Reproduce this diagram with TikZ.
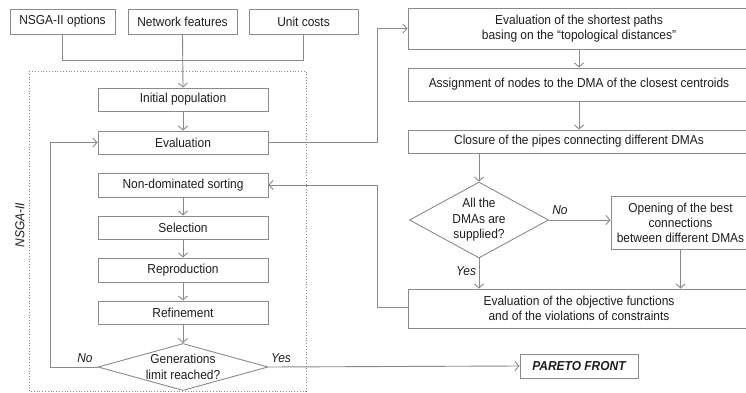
\documentclass[tikz,border=0pt]{standalone}
\usepackage{fontspec}
\setmainfont{Liberation Sans}[FakeStretch=0.92]
\usetikzlibrary{arrows.meta,shapes.geometric}
\definecolor{linecol}{HTML}{8A8A8A}
\definecolor{txtcol}{HTML}{1E1E1E}
\tikzset{
  box/.style={draw=linecol,line width=0.9pt,fill=white,inner sep=0pt,align=center,
    text=txtcol,font=\fontsize{13}{15}\selectfont},
  dia/.style={diamond,draw=linecol,line width=0.9pt,fill=white,inner sep=0pt,align=center,
    text=txtcol,font=\fontsize{13}{15.5}\selectfont},
  arr/.style={draw=linecol,line width=0.9pt,-{Straight Barb[length=4pt,width=9pt]}},
  ln/.style={draw=linecol,line width=0.9pt},
  lbl/.style={text=txtcol,font=\fontsize{13}{15}\selectfont\itshape,inner sep=0pt}
}
\begin{document}
\begin{tikzpicture}[x=1pt,y=-1pt]
\path[use as bounding box,clip] (0,0) rectangle (746,393);
\fill[white] (0,0) rectangle (746,393);
% dotted frame
\draw[linecol,dotted,line width=0.8pt] (29,71) rectangle (306,391);
\node[lbl,rotate=90] (nsga) at (20,225) {NSGA-II};
% inputs
\node[box,minimum width=105,minimum height=25] (opt) at (62.5,21.5) {NSGA-II options};
\node[box,minimum width=109,minimum height=25] (net) at (182.5,21.5) {Network features};
\node[box,minimum width=109,minimum height=25] (unit) at (303.5,21.5) {Unit costs};
% left column
\node[box,minimum width=170,minimum height=23] (init) at (183,99.5) {Initial population};
\node[box,minimum width=170,minimum height=23] (eval) at (183,142.5) {Evaluation};
\node[box,minimum width=170,minimum height=24] (nds) at (183,185) {Non-dominated sorting};
\node[box,minimum width=170,minimum height=23] (sel) at (183,227.5) {Selection};
\node[box,minimum width=170,minimum height=24] (rep) at (183,270) {Reproduction};
\node[box,minimum width=170,minimum height=23] (ref) at (183,312.5) {Refinement};
\node[dia,aspect=3.6,minimum width=170,minimum height=47] (gen) at (183,367) {Generations\\limit reached?};
% right column
\node[box,minimum width=342,minimum height=41] (sp) at (579,28.5) {Evaluation of the shortest paths\\basing on the “topological distances”};
\node[box,minimum width=342,minimum height=33] (asg) at (579,84.5) {Assignment of nodes to the DMA of the closest centroids};
\node[box,minimum width=342,minimum height=23] (clo) at (579,141.5) {Closure of the pipes connecting different DMAs};
\node[dia,aspect=1.83,minimum width=139,minimum height=76] (dma) at (479,220) {All the\\DMAs are\\supplied?};
\node[box,minimum width=139,minimum height=53] (opn) at (680.5,222.5) {Opening of the best\\connections\\between different DMAs};
\node[box,minimum width=342,minimum height=39] (obj) at (579,308.5) {Evaluation of the objective functions\\and of the violations of constraints};
\node[box,minimum width=118,minimum height=24,font=\fontsize{13}{15}\selectfont\bfseries\itshape] (par) at (579,366) {PARETO FRONT};
% connectors
\draw[ln] (opt.south) -- ++(0,26) -| (unit.south);
\draw[arr] (net.south) -- (init.north);
\draw[arr] (init) -- (eval);
\draw[arr] (nds) -- (sel);
\draw[arr] (sel) -- (rep);
\draw[arr] (rep) -- (ref);
\draw[arr] (ref) -- (gen);
\draw[arr] (gen.west) -- (50,367) |- (eval.west);
\draw[arr] (gen.east) -- (par.west);
\node[lbl] (no1) at (85,358) {No};
\node[lbl] (yes1) at (281,358) {Yes};
\draw[arr] (eval.east) -- (377,142.5) |- (sp.west);
\draw[arr] (sp) -- (asg);
\draw[arr] (asg) -- (clo);
\draw[arr] (clo.south -| dma.north) -- (dma.north);
\draw[arr] (dma.south) -- (dma.south |- obj.north);
\draw[arr] (dma.east) -- (opn.west |- dma.east);
\draw[arr] (opn.south) -- (opn.south |- obj.north);
\draw[arr] (obj.west |- 0,307) -- (377,307) |- (nds.east);
\node[lbl] (no2) at (560,210) {No};
\node[lbl] (yes2) at (466,271) {Yes};
\end{tikzpicture}
\end{document}
